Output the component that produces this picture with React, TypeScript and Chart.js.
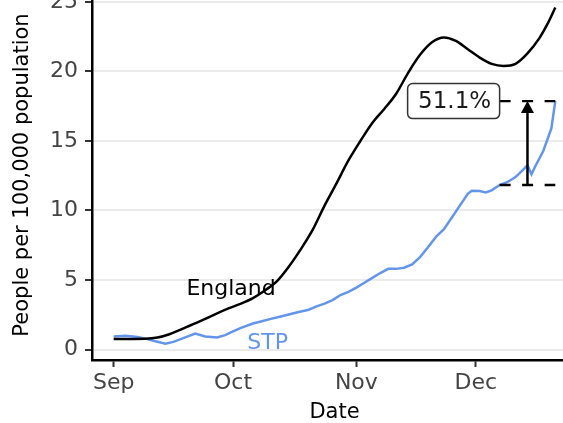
import React, { useEffect, useRef } from "react";
import { Chart, registerables } from "chart.js";

Chart.register(...registerables);

// ---- data (days since 1 Sep) ----
const xTickDays = [0, 30, 61, 91];
const xTickLabels = ["Sep", "Oct", "Nov", "Dec"];
const yTickValues = [0, 5, 10, 15, 20, 25];

const englandDays = [0, 4, 8, 11, 14, 17, 20, 23, 26, 29, 32, 35, 38, 41, 44, 47, 50, 53, 56, 59, 62, 65, 68, 71, 74, 77, 80, 83, 86, 89, 92, 95, 98, 101, 104, 107, 109, 111];
const englandValues = [0.76, 0.76, 0.77, 0.86, 1.1, 1.45, 1.82, 2.2, 2.6, 2.97, 3.3, 3.7, 4.25, 4.9, 5.95, 7.2, 8.6, 10.35, 11.95, 13.6, 15.0, 16.3, 17.3, 18.4, 19.9, 21.2, 22.1, 22.45, 22.2, 21.6, 21.0, 20.55, 20.4, 20.55, 21.3, 22.4, 23.4, 24.6];

const stpDays = [0, 3, 6, 8, 10, 13, 15, 17, 20.5, 23, 26, 28, 30, 32, 35, 37, 39, 42, 44, 46, 49, 51, 53, 55, 57, 59, 61, 63, 65, 67, 69, 71, 73, 75, 77, 79, 81, 83, 85, 87, 89, 90, 92, 93.5, 95, 97, 99, 101, 103, 104, 105, 106, 108, 110, 111];
const stpValues = [0.93, 0.99, 0.9, 0.78, 0.63, 0.42, 0.55, 0.76, 1.14, 0.94, 0.86, 1.03, 1.3, 1.56, 1.87, 2.02, 2.17, 2.38, 2.52, 2.66, 2.86, 3.1, 3.3, 3.55, 3.92, 4.15, 4.45, 4.8, 5.15, 5.5, 5.8, 5.8, 5.88, 6.12, 6.65, 7.35, 8.1, 8.65, 9.5, 10.35, 11.2, 11.42, 11.4, 11.3, 11.45, 11.83, 12.05, 12.4, 12.95, 13.25, 12.6, 13.2, 14.3, 15.9, 17.87];

const refDay = 97; // comparison point, two weeks before the latest value

const FONT = "'DejaVu Sans', sans-serif";

const annotationPlugin = {
  id: "ggAnnotations",
  afterDatasetsDraw(chart: any) {
    const { ctx, scales } = chart;
    const xs = scales.x;
    const ys = scales.y;
    const lastDay = stpDays[stpDays.length - 1];
    const upper = stpValues[stpValues.length - 1];
    const lower = stpValues[stpDays.indexOf(refDay)];
    const pct = ((upper / lower - 1) * 100).toFixed(1) + "%";

    const x0 = xs.getPixelForValue(refDay);
    const x1 = xs.getPixelForValue(lastDay);
    const yU = ys.getPixelForValue(upper);
    const yL = ys.getPixelForValue(lower);
    const xm = xs.getPixelForValue((refDay + lastDay) / 2);

    ctx.save();
    // series labels
    ctx.font = `22px ${FONT}`;
    ctx.textAlign = "center";
    ctx.textBaseline = "middle";
    ctx.fillStyle = "#000000";
    ctx.fillText("England", xs.getPixelForValue(29.5), ys.getPixelForValue(4.3));
    ctx.fillStyle = "#6495ED";
    ctx.fillText("STP", xs.getPixelForValue(38.7), ys.getPixelForValue(0.45));

    // dashed reference lines
    ctx.strokeStyle = "#000000";
    ctx.lineWidth = 2.4;
    ctx.setLineDash([11, 11.5]);
    ctx.beginPath();
    ctx.moveTo(x0, yU);
    ctx.lineTo(x1, yU);
    ctx.moveTo(x0, yL);
    ctx.lineTo(x1, yL);
    ctx.stroke();
    ctx.setLineDash([]);

    // arrow
    const headLen = 12;
    const headHalf = 6.5;
    ctx.lineWidth = 2.5;
    ctx.beginPath();
    ctx.moveTo(xm, yL);
    ctx.lineTo(xm, yU + headLen);
    ctx.stroke();
    ctx.beginPath();
    ctx.moveTo(xm, yU);
    ctx.lineTo(xm - headHalf, yU + headLen);
    ctx.lineTo(xm + headHalf, yU + headLen);
    ctx.closePath();
    ctx.fillStyle = "#000000";
    ctx.fill();

    // label box
    const bw = 92;
    const bh = 35;
    const bx = x0 - bw;
    const by = yU - bh / 2;
    const r = 5;
    ctx.beginPath();
    ctx.moveTo(bx + r, by);
    ctx.lineTo(bx + bw - r, by);
    ctx.arcTo(bx + bw, by, bx + bw, by + r, r);
    ctx.lineTo(bx + bw, by + bh - r);
    ctx.arcTo(bx + bw, by + bh, bx + bw - r, by + bh, r);
    ctx.lineTo(bx + r, by + bh);
    ctx.arcTo(bx, by + bh, bx, by + bh - r, r);
    ctx.lineTo(bx, by + r);
    ctx.arcTo(bx, by, bx + r, by, r);
    ctx.closePath();
    ctx.fillStyle = "#ffffff";
    ctx.fill();
    ctx.lineWidth = 1.5;
    ctx.strokeStyle = "#333333";
    ctx.stroke();
    ctx.fillStyle = "#1a1a1a";
    ctx.font = `23px ${FONT}`;
    ctx.fillText(pct, bx + bw / 2 + 1, yU + 1);
    ctx.restore();
  },
};

export default function App() {
  const canvasRef = useRef<HTMLCanvasElement | null>(null);

  useEffect(() => {
    if (!canvasRef.current) return;
    Chart.defaults.font.family = FONT;
    const chart = new Chart(canvasRef.current, {
      type: "line",
      data: {
        datasets: [
          {
            label: "England",
            data: englandDays.map((d, i) => ({ x: d, y: englandValues[i] })),
            borderColor: "#000000",
            borderWidth: 2.5,
            pointRadius: 0,
            cubicInterpolationMode: "monotone",
            fill: false,
          },
          {
            label: "STP",
            data: stpDays.map((d, i) => ({ x: d, y: stpValues[i] })),
            borderColor: "#6495ED",
            borderWidth: 2.5,
            pointRadius: 0,
            tension: 0,
            fill: false,
          },
        ],
      },
      options: {
        responsive: false,
        animation: false,
        events: [],
        layout: { padding: { top: 30, left: 0, right: 0, bottom: 0 } },
        plugins: {
          legend: { display: false },
          tooltip: { enabled: false },
          title: { display: false },
        },
        scales: {
          x: {
            type: "linear",
            min: -5.45,
            max: 116.45,
            afterBuildTicks: (scale: any) => {
              scale.ticks = xTickDays.map((v) => ({ value: v }));
            },
            afterFit: (scale: any) => {
              scale.height = 63;
            },
            ticks: {
              autoSkip: false,
              maxRotation: 0,
              padding: 3,
              color: "#444444",
              font: { size: 22 },
              callback: (_v: any, i: number) => xTickLabels[i],
            },
            grid: {
              drawOnChartArea: false,
              drawTicks: true,
              tickLength: 7,
              tickWidth: 2,
              tickColor: "#333333",
            },
            border: { display: true, color: "#000000", width: 2.5 },
            title: {
              display: true,
              text: "Date",
              color: "#000000",
              font: { size: 21, lineHeight: 1.0 },
              padding: { top: 0, bottom: 0 },
            },
          },
          y: {
            type: "linear",
            min: -0.755,
            max: 25.86,
            afterBuildTicks: (scale: any) => {
              scale.ticks = yTickValues.map((v) => ({ value: v }));
            },
            afterFit: (scale: any) => {
              scale.width = 92;
            },
            ticks: {
              autoSkip: false,
              padding: 7,
              color: "#444444",
              font: { size: 22, lineHeight: 1.1 },
              callback: (v: any) => String(v),
            },
            grid: {
              drawOnChartArea: true,
              color: "#ebebeb",
              lineWidth: 2,
              drawTicks: true,
              tickLength: 7,
              tickWidth: 2,
              tickColor: "#333333",
            },
            border: { display: true, color: "#000000", width: 2.5 },
            title: {
              display: true,
              text: "People per 100,000 population",
              color: "#000000",
              font: { size: 21, lineHeight: 1.2 },
              padding: { top: 10, bottom: 0 },
            },
          },
        },
      },
      plugins: [annotationPlugin],
    } as any);
    return () => chart.destroy();
  }, []);

  return (
    <div
      style={{
        position: "fixed",
        left: 0,
        top: 0,
        width: 563,
        height: 423,
        overflow: "hidden",
        background: "#ffffff",
      }}
    >
      <canvas
        ref={canvasRef}
        width={577}
        height={463}
        style={{ position: "absolute", left: 0, top: -40, width: 577, height: 463 }}
      />
    </div>
  );
}
